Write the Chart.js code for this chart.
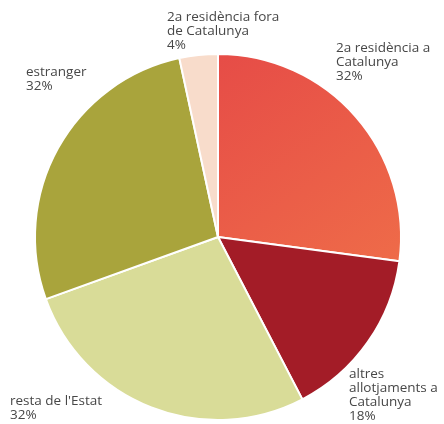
<!DOCTYPE html>
<html>
<head>
<meta charset="utf-8">
<script src="https://cdn.jsdelivr.net/npm/chart.js@4"></script>
<style>
  html, body { margin: 0; padding: 0; background: #fff; }
  #wrap { width: 444px; height: 424px; position: relative; }
</style>
</head>
<body>
<div id="wrap"><canvas id="pieChart" width="444" height="424"></canvas></div>
<script>
// categories (split into lines as printed) and their shares in %
const categories = [
    ["2a residència a", "Catalunya"],
    ["altres", "allotjaments a", "Catalunya"],
    ["resta de l'Estat"],
    ["estranger"],
    ["2a residència fora", "de Catalunya"]
];
const shares = [32, 18, 32, 32, 4];
const sliceColors = ["#e9554a", "#a31c27", "#d9dc98", "#a9a43c", "#f8dccb"];

// where each label block starts (left x, first line y)
const labelSpots = [
    { x: 336, y: 48 },
    { x: 349, y: 374 },
    { x: 10, y: 401 },
    { x: 26, y: 72 },
    { x: 167, y: 17 }
];

const ctx = document.getElementById("pieChart").getContext("2d");

// the first slice fades from red to orange towards the lower right
function redFill(context) {
    const area = context.chart.chartArea;
    if (!area) return sliceColors[0];
    const g = context.chart.ctx.createLinearGradient(area.left + 184, area.top, area.right, area.top + 270);
    g.addColorStop(0, "#e64c47");
    g.addColorStop(1, "#f07149");
    return g;
}

const labelPlugin = {
    id: "sliceLabels",
    afterDraw(chart) {
        const c = chart.ctx;
        c.save();
        c.font = "13.5px 'Open Sans', 'Noto Sans', sans-serif";
        c.fillStyle = "#474747";
        c.textBaseline = "middle";
        c.textAlign = "left";
        categories.forEach((lines, i) => {
            const spot = labelSpots[i];
            const all = lines.concat([shares[i] + "%"]);
            all.forEach((t, k) => c.fillText(t, spot.x, spot.y + k * 14));
        });
        c.restore();
    }
};

new Chart(ctx, {
    type: "pie",
    data: {
        labels: categories.map(l => l.join(" ")),
        datasets: [{
            data: shares,
            backgroundColor: ctx2 => ctx2.dataIndex === 0 ? redFill(ctx2) : sliceColors[ctx2.dataIndex],
            borderColor: "#ffffff",
            borderWidth: 2
        }]
    },
    options: {
        responsive: false,
        animation: false,
        layout: { padding: { left: 34, right: 42, top: 53, bottom: 3 } },
        plugins: {
            legend: { display: false },
            tooltip: { enabled: false }
        }
    },
    plugins: [labelPlugin]
});
</script>
</body>
</html>
